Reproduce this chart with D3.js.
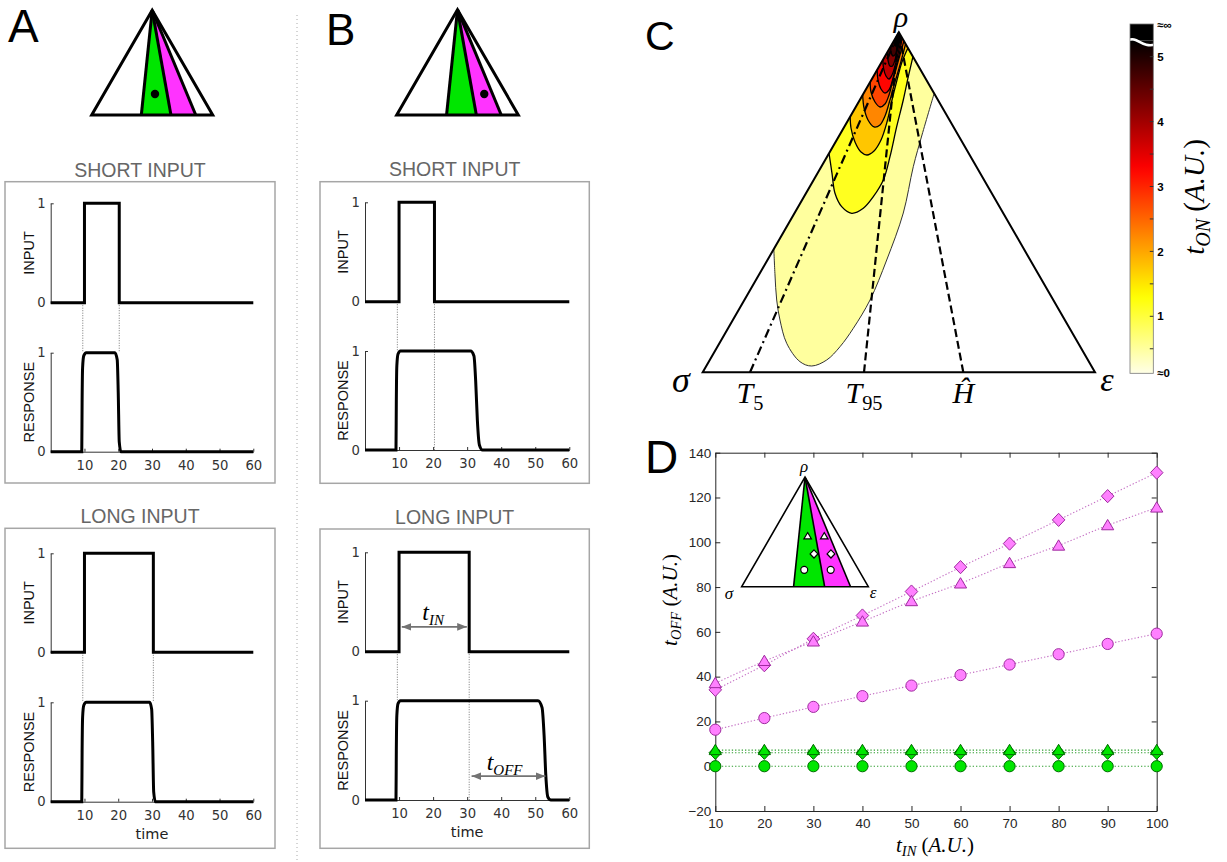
<!DOCTYPE html>
<html>
<head>
<meta charset="utf-8">
<script src="https://cdn.jsdelivr.net/npm/d3@7"></script>
<style>
  body { margin: 0; background: #fff; }
  svg { display: block; }
</style>
</head>
<body>
<svg id="fig" width="1227" height="862"></svg>
<script>
// ---------- data ----------
const timeTicks = [10, 20, 30, 40, 50, 60]
const pulseOn = 10
const offShortA = 20.3, offLongA = 30.4, offShortB = 20.4, offLongB = 30.6

// response traces (time, level)
const respShortA = [[0,0],[9.2,0],[9.3,0.5],[9.45,0.85],[9.8,0.97],[10.5,1],[19,1],[19.7,0.93],[20,0.6],[20.3,0.1],[20.8,0],[60,0]]
const respLongA  = [[0,0],[9.2,0],[9.3,0.5],[9.45,0.85],[9.8,0.97],[10.5,1],[29.3,1],[29.9,0.93],[30.2,0.6],[30.5,0.1],[31,0],[60,0]]
const respShortB = [[0,0],[9.1,0],[9.2,0.5],[9.35,0.85],[9.7,0.97],[10.4,1],[31,1],[32,0.95],[32.5,0.7],[33,0.3],[33.6,0.05],[34.5,0],[60,0]]
const respLongB  = [[0,0],[9.1,0],[9.2,0.5],[9.35,0.85],[9.7,0.97],[10.4,1],[50.8,1],[52,0.93],[52.6,0.65],[53.1,0.25],[53.7,0.03],[54.6,0],[60,0]]

// panel D
const tIn = [10, 20, 30, 40, 50, 60, 70, 80, 90, 100]
const magDiamond  = [34.1, 45.1, 56.9, 67.3, 78.0, 88.9, 99.4, 110.0, 120.6, 131.1]
const magTriangle = [37.1, 47.0, 55.7, 64.6, 73.7, 81.6, 90.7, 98.5, 107.6, 115.5]
const magCircle   = [16.3, 21.5, 26.5, 31.3, 36.0, 40.7, 45.4, 50.0, 54.6, 59.2]
const grnDiamond  = [6.0, 6.0, 6.0, 6.0, 6.0, 6.0, 6.0, 6.0, 6.0, 6.0]
const grnTriangle = [7.2, 7.2, 7.2, 7.2, 7.2, 7.2, 7.2, 7.2, 7.2, 7.2]
const grnCircle   = [0, 0, 0, 0, 0, 0, 0, 0, 0, 0]
const yTicksD = [-20, 0, 20, 40, 60, 80, 100, 120, 140]

// ternary diagrams (u along base 0..1, v height 0..1)
const regionBase = [0.41, 0.655, 0.86]     // green left, green|magenta, magenta right
const dotA = [0.523, 0.2]
const dotB = [0.72, 0.2]
const insetMarks = [
  { u: 0.521, v: 0.461, sym: 'tri' }, { u: 0.571, v: 0.299, sym: 'dia' }, { u: 0.494, v: 0.154, sym: 'cir' },
  { u: 0.652, v: 0.461, sym: 'tri' }, { u: 0.705, v: 0.299, sym: 'dia' }, { u: 0.703, v: 0.154, sym: 'cir' }
]
const lineBase = [
  { name: 'T5',  u: 0.1206, dash: '9,4,2,4' },
  { name: 'T95', u: 0.4112, dash: '8,4' },
  { name: 'H',   u: 0.6643, dash: '8,4' }
]

// t_ON contour levels and their boundaries (left edge -> right edge)
const contourLevels = [0, 1, 1.5, 2, 2.5, 3, 3.5, 4, 4.5, 5]
const contourCurves = [
  [[0.1813,0.3626],[0.1843,0.2862],[0.1886,0.2126],[0.197,0.1538],[0.2141,0.0853],[0.248,0.0312],[0.2778,0.0185],[0.3161,0.0362],[0.35,0.0753],[0.3839,0.1294],[0.4265,0.2126],[0.469,0.3303],[0.5113,0.4685],[0.5368,0.6047],[0.559,0.698],[0.59,0.82]],
  [[0.322,0.6441],[0.3296,0.5853],[0.3372,0.5265],[0.3543,0.4871],[0.3798,0.4676],[0.4094,0.4824],[0.4349,0.5165],[0.4604,0.5656],[0.4774,0.6341],[0.4945,0.7224],[0.5113,0.8009],[0.5241,0.8694],[0.5359,0.9282]],
  [[0.3759,0.7518],[0.378,0.7185],[0.3882,0.6774],[0.4035,0.6479],[0.4188,0.6391],[0.4367,0.6509],[0.4545,0.6832],[0.4698,0.7362],[0.4826,0.8009],[0.4953,0.8597],[0.508,0.9126],[0.5231,0.9538]],
  [[0.4078,0.8156],[0.4112,0.7774],[0.4214,0.7421],[0.4367,0.7215],[0.4519,0.7274],[0.4647,0.7538],[0.4774,0.8009],[0.4902,0.8538],[0.5029,0.9038],[0.5172,0.9656]],
  [[0.4269,0.8538],[0.429,0.8244],[0.4392,0.795],[0.4519,0.7803],[0.4647,0.7891],[0.4749,0.8156],[0.485,0.8597],[0.4978,0.9126],[0.5128,0.9744]],
  [[0.4446,0.8891],[0.4468,0.86],[0.4545,0.8332],[0.4647,0.8215],[0.4749,0.8303],[0.4826,0.8538],[0.4902,0.8891],[0.5004,0.9332],[0.5084,0.9832]],
  [[0.4593,0.9185],[0.4609,0.895],[0.4672,0.8715],[0.4749,0.8626],[0.4826,0.8744],[0.4902,0.9009],[0.4978,0.9362],[0.5069,0.9862]],
  [[0.471,0.9421],[0.4723,0.9185],[0.4774,0.9009],[0.4838,0.9009],[0.4902,0.9185],[0.4966,0.9479],[0.5054,0.9891]],
  [[0.4798,0.9597],[0.48,0.942],[0.4851,0.9303],[0.4915,0.9362],[0.4966,0.9597],[0.5047,0.9906]],
  [[0.488,0.9759],[0.4889,0.9626],[0.494,0.9597],[0.4991,0.9744],[0.5028,0.9944]]
]
const cbMajor = [1, 2, 3, 4, 5]
const cbMinor = [0.5, 1.5, 2.5, 3.5, 4.5]
const cbMax = 5.25

// ---------- setup ----------
const sans = 'Liberation Sans, Arial, sans-serif'
const dejavu = 'DejaVu Sans, sans-serif'
const serif = 'Liberation Serif, Times New Roman, serif'
const green = '#00e600', magenta = '#ff33ff'

const svg = d3.select('#fig')
svg.append('rect').attr('width', 1227).attr('height', 862).attr('fill', '#fff')
const defs = svg.append('defs')

// reversed "hot" colormap
function hotR(val) {
  const s = 1 - Math.max(0, Math.min(1, val / cbMax))
  const cl = (x) => Math.max(0, Math.min(1, x))
  return d3.rgb(255 * cl(s / 0.375), 255 * cl((s - 0.375) / 0.375), 255 * cl((s - 0.75) / 0.25)).formatHex()
}

function triPath(xs, ys) {
  return `M${xs(0)},${ys(0)}L${xs(0.5)},${ys(1)}L${xs(1)},${ys(0)}Z`
}

// panel letters
const letters = [['A', 8, 42, 46], ['B', 326, 45, 44], ['C', 645, 50, 41], ['D', 645, 473, 46]]
letters.forEach(([t, x, y, s]) => {
  svg.append('text').attr('x', x).attr('y', y).attr('font-family', sans).attr('font-size', s).text(t)
})

// separator
svg.append('line').attr('x1', 297).attr('x2', 297).attr('y1', 15).attr('y2', 862)
  .attr('stroke', '#aaa').attr('stroke-width', 1).attr('stroke-dasharray', '1,3')

// ---------- small ternary diagrams ----------
function miniTriangle(x0, y0, w, lw) {
  const xs = d3.scaleLinear().domain([0, 1]).range([x0, x0 + w])
  const ys = d3.scaleLinear().domain([0, 1]).range([y0, y0 - w * 0.866])
  const g = svg.append('g')
  const apex = [xs(0.5), ys(1)]
  const poly = (a, b) => `M${apex}L${xs(a)},${ys(0)}L${xs(b)},${ys(0)}Z`
  g.append('path').attr('d', poly(regionBase[0], regionBase[1])).attr('fill', green)
  g.append('path').attr('d', poly(regionBase[1], regionBase[2])).attr('fill', magenta)
  g.append('path').attr('d', triPath(xs, ys)).attr('fill', 'none').attr('stroke', '#000')
    .attr('stroke-width', lw).attr('stroke-linejoin', 'miter').attr('stroke-miterlimit', 3)
  regionBase.forEach(u => {
    g.append('line').attr('x1', apex[0]).attr('y1', apex[1]).attr('x2', xs(u)).attr('y2', ys(0))
      .attr('stroke', '#000').attr('stroke-width', lw)
  })
  return { g, xs, ys }
}

const triA = miniTriangle(91.7, 115, 121, 3)
triA.g.append('circle').attr('cx', triA.xs(dotA[0])).attr('cy', triA.ys(dotA[1])).attr('r', 4.2)
const triB = miniTriangle(396.7, 115, 121.6, 3)
triB.g.append('circle').attr('cx', triB.xs(dotB[0])).attr('cy', triB.ys(dotB[1])).attr('r', 4.2)

// ---------- time course panels ----------
const stepOf = (off) => [[0, 0], [pulseOn, 0], [pulseOn, 1], [off, 1], [off, 0], [60, 0]]

const timePanels = [
  { title: 'SHORT INPUT', box: [5, 181.7, 275, 483], titleY: 176.7, xr: [50.7, 253.3], inY: [302.7, 203.3], resY: [451.7, 352.7],
    labelX: 33.5, input: stepOf(offShortA), resp: respShortA, guides: [[9.5, 1], [offShortA, 1]], time: false },
  { title: 'LONG INPUT', box: [5, 528.3, 275, 848.3], titleY: 523.3, xr: [50.7, 253.3], inY: [652.3, 553.3], resY: [801.7, 702.3],
    labelX: 33.5, input: stepOf(offLongA), resp: respLongA, guides: [[9.5, 1], [offLongA, 1]], time: true },
  { title: 'SHORT INPUT', box: [320, 181.7, 589.3, 483.3], titleY: 175.5, xr: [365, 569.3], inY: [301.7, 202.3], resY: [450, 351],
    labelX: 348, input: stepOf(offShortB), resp: respShortB, guides: [[9.5, 1], [offShortB, 0]], time: false },
  { title: 'LONG INPUT', box: [320, 529, 589.3, 848.3], titleY: 523.8, xr: [365, 569.3], inY: [651.7, 552.3], resY: [800, 700.7],
    labelX: 348, input: stepOf(offLongB), resp: respLongB, guides: [[9.5, 1], [offLongB, 0]], time: true,
    arrows: [{ t0: 10.8, t1: 29.9, lev: 0.25, on: 'in', main: 't', sub: 'IN', tx: 20, ty: 0.32 },
             { t0: 31.3, t1: 53.0, lev: 0.24, on: 'res', main: 't', sub: 'OFF', tx: 41, ty: 0.3 }] }
]

defs.append('marker').attr('id', 'arrowHead').attr('viewBox', '0 0 10 10').attr('refX', 10).attr('refY', 5)
  .attr('markerWidth', 6).attr('markerHeight', 6).attr('orient', 'auto-start-reverse')
  .append('path').attr('d', 'M0,1L10,5L0,9Z').attr('fill', '#737373')

timePanels.forEach(p => {
  const g = svg.append('g')
  g.append('rect').attr('x', p.box[0]).attr('y', p.box[1]).attr('width', p.box[2] - p.box[0]).attr('height', p.box[3] - p.box[1])
    .attr('fill', 'none').attr('stroke', '#a6a6a6').attr('stroke-width', 1.5)
  g.append('text').attr('x', (p.box[0] + p.box[2]) / 2).attr('y', p.titleY).attr('text-anchor', 'middle')
    .attr('font-family', sans).attr('font-size', 19.5).attr('fill', '#666').text(p.title)

  const x = d3.scaleLinear().domain([0, 60]).range(p.xr)
  const yIn = d3.scaleLinear().domain([0, 1]).range(p.inY)
  const yRes = d3.scaleLinear().domain([0, 1]).range(p.resY)

  const styleAxis = (a) => {
    a.selectAll('path,line').attr('stroke', '#333').attr('stroke-width', 1)
    a.selectAll('text').attr('font-family', dejavu).attr('font-size', 13.2).attr('fill', '#333')
  }
  g.append('g').attr('transform', `translate(${p.xr[0]},0)`)
    .call(d3.axisLeft(yIn).tickValues([0, 1]).tickFormat(d3.format('d')).tickSizeInner(-3).tickSizeOuter(0).tickPadding(5)).call(styleAxis)
  g.append('g').attr('transform', `translate(${p.xr[0]},0)`)
    .call(d3.axisLeft(yRes).tickValues([0, 1]).tickFormat(d3.format('d')).tickSizeInner(-3).tickSizeOuter(0).tickPadding(5)).call(styleAxis)
  g.append('g').attr('transform', `translate(0,${p.resY[0]})`)
    .call(d3.axisBottom(x).tickValues(timeTicks).tickSizeInner(-3).tickSizeOuter(0).tickPadding(8.5)).call(styleAxis)
  g.selectAll('.domain').attr('stroke', '#333')

  g.append('text').attr('transform', `translate(${p.labelX},${(p.inY[0] + p.inY[1]) / 2}) rotate(-90)`)
    .attr('text-anchor', 'middle').attr('font-family', sans).attr('font-size', 14.5).attr('fill', '#111').text('INPUT')
  g.append('text').attr('transform', `translate(${p.labelX},${(p.resY[0] + p.resY[1]) / 2}) rotate(-90)`)
    .attr('text-anchor', 'middle').attr('font-family', sans).attr('font-size', 14.5).attr('fill', '#111').text('RESPONSE')
  if (p.time) {
    g.append('text').attr('x', (p.xr[0] + p.xr[1]) / 2).attr('y', p.resY[0] + 37).attr('text-anchor', 'middle')
      .attr('font-family', dejavu).attr('font-size', 14.5).attr('fill', '#222').text('time')
  }

  // guides
  p.guides.forEach(([t, lev]) => {
    g.append('line').attr('x1', x(t)).attr('x2', x(t)).attr('y1', yIn(0)).attr('y2', yRes(lev))
      .attr('stroke', '#555').attr('stroke-width', 0.8).attr('stroke-dasharray', '1,1.5')
  })

  g.append('path').datum(p.input)
    .attr('d', d3.line().x(d => x(d[0])).y(d => yIn(d[1])))
    .attr('fill', 'none').attr('stroke', '#000').attr('stroke-width', 3)
  g.append('path').datum(p.resp)
    .attr('d', d3.line().x(d => x(d[0])).y(d => yRes(d[1])).curve(d3.curveMonotoneX))
    .attr('fill', 'none').attr('stroke', '#000').attr('stroke-width', 3)

  ;(p.arrows || []).forEach(a => {
    const yy = a.on === 'in' ? yIn : yRes
    g.append('line').attr('x1', x(a.t0)).attr('x2', x(a.t1)).attr('y1', yy(a.lev)).attr('y2', yy(a.lev))
      .attr('stroke', '#737373').attr('stroke-width', 1.6)
      .attr('marker-start', 'url(#arrowHead)').attr('marker-end', 'url(#arrowHead)')
    const t = g.append('text').attr('x', x(a.tx)).attr('y', yy(a.ty)).attr('text-anchor', 'middle')
      .attr('font-family', serif).attr('font-style', 'italic').attr('font-size', 24)
    t.append('tspan').text(a.main)
    t.append('tspan').attr('font-size', 15).attr('dy', 5).text(a.sub)
  })
})

// ---------- panel C ----------
const xC = d3.scaleLinear().domain([0, 1]).range([702.7, 1095])
const yC = d3.scaleLinear().domain([0, 1]).range([372.3, 32.3])
defs.append('clipPath').attr('id', 'clipC').append('path').attr('d', triPath(xC, yC))

const gC = svg.append('g')
const lineC = d3.line().x(d => xC(d[0])).y(d => yC(d[1])).curve(d3.curveCatmullRom.alpha(0.5))
const apexC = `L${xC(0.5)},${yC(1)}Z`
const fills = gC.append('g').attr('clip-path', 'url(#clipC)')
contourCurves.forEach((c, i) => {
  const next = i < contourLevels.length - 1 ? contourLevels[i + 1] : cbMax
  const mid = i === contourLevels.length - 1 ? cbMax : (contourLevels[i] + next) / 2
  fills.append('path').attr('d', lineC(c) + apexC).attr('fill', hotR(i === 1 ? 1.15 : mid)).attr('stroke', 'none')
})
contourCurves.forEach((c, i) => {
  fills.append('path').attr('d', lineC(c)).attr('fill', 'none')
    .attr('stroke', i === 0 ? '#333' : '#000').attr('stroke-width', i === 0 ? 1 : 1.3)
})
gC.append('path').attr('d', triPath(xC, yC)).attr('fill', 'none').attr('stroke', '#000').attr('stroke-width', 2)
  .attr('stroke-linejoin', 'miter').attr('stroke-miterlimit', 4)
lineBase.forEach(l => {
  gC.append('line').attr('x1', xC(l.u)).attr('y1', yC(0)).attr('x2', xC(0.5)).attr('y2', yC(1))
    .attr('stroke', '#000').attr('stroke-width', 2.2).attr('stroke-dasharray', l.dash)
})

function mathText(g, x, y, size, main, sub, anchor, subItalic) {
  const t = g.append('text').attr('x', x).attr('y', y).attr('text-anchor', anchor || 'middle')
    .attr('font-family', serif).attr('font-size', size)
  t.append('tspan').attr('font-style', 'italic').text(main)
  if (sub) t.append('tspan').attr('font-size', size * 0.68).attr('dy', size * 0.22)
    .attr('font-style', subItalic ? 'italic' : 'normal').text(sub)
  return t
}
mathText(gC, 901, 27, 30, 'ρ')
mathText(gC, 681, 392, 36, 'σ')
mathText(gC, 1107, 391, 34, 'ε')
mathText(gC, xC(lineBase[0].u), 403, 30, 'T', '5')
mathText(gC, xC(lineBase[1].u), 403, 30, 'T', '95')
mathText(gC, xC(lineBase[2].u), 403, 30, 'Ĥ')

// colorbar
const cbX0 = 1130, cbX1 = 1153.3, cbBottom = 373.3, cbTop = 24
const cbY = d3.scaleLinear().domain([0, 5]).range([381.2, 56.7])
const cbLow = cbY.invert(cbBottom)
const grad = defs.append('linearGradient').attr('id', 'cbGrad').attr('x1', 0).attr('x2', 0).attr('y1', 1).attr('y2', 0)
d3.range(0, 1.0001, 0.025).forEach(o => {
  grad.append('stop').attr('offset', o).attr('stop-color', hotR(cbLow + o * (cbMax - cbLow)))
})
const gCb = svg.append('g')
gCb.append('rect').attr('x', cbX0).attr('y', cbTop).attr('width', cbX1 - cbX0).attr('height', cbY(cbMax) - cbTop).attr('fill', '#000')
gCb.append('rect').attr('x', cbX0).attr('y', cbY(cbMax)).attr('width', cbX1 - cbX0).attr('height', cbBottom - cbY(cbMax))
  .attr('fill', 'url(#cbGrad)')
const bw = cbX1 - cbX0, by = cbY(cbMax) + 1
gCb.append('path')
  .attr('d', `M${cbX0 - 2},${by - 1} C${cbX0 + bw * 0.3},${by - 6} ${cbX0 + bw * 0.5},${by + 7} ${cbX1 + 2},${by + 3}`)
  .attr('fill', 'none').attr('stroke', '#fff').attr('stroke-width', 2.6)
gCb.append('rect').attr('x', cbX0).attr('y', cbTop).attr('width', bw).attr('height', cbBottom - cbTop)
  .attr('fill', 'none').attr('stroke', '#777').attr('stroke-width', 0.8)
cbMajor.concat(cbMinor).forEach(v => {
  gCb.append('line').attr('x1', cbX1 - 3.5).attr('x2', cbX1).attr('y1', cbY(v)).attr('y2', cbY(v))
    .attr('stroke', '#333').attr('stroke-width', 1)
})
const cbLabels = cbMajor.map(v => [String(v), cbY(v)]).concat([['≈0', cbBottom], ['≈∞', cbTop + 1]])
cbLabels.forEach(([s, y]) => {
  gCb.append('text').attr('x', cbX1 + 4).attr('y', y).attr('dy', '0.36em').attr('font-family', sans)
    .attr('font-weight', 'bold').attr('font-size', 11.5).text(s)
})
const cbLab = gCb.append('text').attr('transform', 'translate(1204,197) rotate(-90)').attr('text-anchor', 'middle')
  .attr('font-family', serif).attr('font-size', 29)
cbLab.append('tspan').attr('font-style', 'italic').text('t')
cbLab.append('tspan').attr('font-style', 'italic').attr('font-size', 20).attr('dy', 6).text('ON')
cbLab.append('tspan').attr('dy', -6).text(' (')
cbLab.append('tspan').attr('font-style', 'italic').text('A.U.')
cbLab.append('tspan').text(')')

// ---------- panel D ----------
const xD = d3.scaleLinear().domain([10, 100]).range([715.3, 1156.7])
const yD = d3.scaleLinear().domain([-20, 140]).range([811, 452.7])
const gD = svg.append('g')
const axisCol = '#262626'
const styleD = (a) => {
  a.selectAll('path,line').attr('stroke', axisCol).attr('stroke-width', 1)
  a.selectAll('text').attr('font-family', sans).attr('font-size', 13.5).attr('fill', axisCol)
}
gD.append('g').attr('transform', `translate(0,${yD(-20)})`)
  .call(d3.axisBottom(xD).tickValues(tIn).tickSizeInner(-5).tickSizeOuter(0).tickPadding(7)).call(styleD)
gD.append('g').attr('transform', `translate(0,${yD(140)})`)
  .call(d3.axisTop(xD).tickValues(tIn).tickFormat('').tickSizeInner(-5).tickSizeOuter(0)).call(styleD)
gD.append('g').attr('transform', `translate(${xD(10)},0)`)
  .call(d3.axisLeft(yD).tickValues(yTicksD).tickSizeInner(-5).tickSizeOuter(0).tickPadding(4)).call(styleD)
gD.append('g').attr('transform', `translate(${xD(100)},0)`)
  .call(d3.axisRight(yD).tickValues(yTicksD).tickFormat('').tickSizeInner(-5).tickSizeOuter(0)).call(styleD)

// axis labels
const xl = gD.append('text').attr('x', 935).attr('y', 852).attr('text-anchor', 'middle').attr('font-family', serif).attr('font-size', 21)
xl.append('tspan').attr('font-style', 'italic').text('t')
xl.append('tspan').attr('font-style', 'italic').attr('font-size', 14.5).attr('dy', 4).text('IN')
xl.append('tspan').attr('dy', -4).text(' (')
xl.append('tspan').attr('font-style', 'italic').text('A.U.')
xl.append('tspan').text(')')
const yl = gD.append('text').attr('transform', 'translate(677,600) rotate(-90)').attr('text-anchor', 'middle').attr('font-family', serif).attr('font-size', 21)
yl.append('tspan').attr('font-style', 'italic').text('t')
yl.append('tspan').attr('font-style', 'italic').attr('font-size', 14.5).attr('dy', 4).text('OFF')
yl.append('tspan').attr('dy', -4).text(' (')
yl.append('tspan').attr('font-style', 'italic').text('A.U.')
yl.append('tspan').text(')')

// inset ternary
const inset = miniTriangle(741.7, 586.7, 126.6, 1.6)
mathText(inset.g, 804, 472, 17, 'ρ')
mathText(inset.g, 729, 599, 17, 'σ')
mathText(inset.g, 873, 598, 17, 'ε')

// marker shapes
const diaSym = { draw(ctx, s) { ctx.moveTo(0, -s); ctx.lineTo(s * 0.95, 0); ctx.lineTo(0, s); ctx.lineTo(-s * 0.95, 0); ctx.closePath() } }
const triSym = { draw(ctx, s) { ctx.moveTo(0, -s); ctx.lineTo(s * 1.05, s * 0.78); ctx.lineTo(-s * 1.05, s * 0.78); ctx.closePath() } }
const cirSym = { draw(ctx, s) { ctx.moveTo(s, 0); ctx.arc(0, 0, s, 0, 2 * Math.PI) } }
const symOf = { dia: [diaSym, 6.6], tri: [triSym, 5.8], cir: [cirSym, 5.6] }

insetMarks.forEach(m => {
  const [type, s] = symOf[m.sym]
  inset.g.append('path').attr('d', d3.symbol(type, s * 0.62)())
    .attr('transform', `translate(${inset.xs(m.u)},${inset.ys(m.v)})`)
    .attr('fill', '#fff').attr('stroke', '#000').attr('stroke-width', 1.2)
})

const seriesD = [
  { vals: magCircle, sym: 'cir', fill: '#ff80ff', stroke: '#9e2a9e', line: '#c46fc4' },
  { vals: magDiamond, sym: 'dia', fill: '#ff80ff', stroke: '#9e2a9e', line: '#c46fc4' },
  { vals: magTriangle, sym: 'tri', fill: '#ff80ff', stroke: '#9e2a9e', line: '#c46fc4' },
  { vals: grnCircle, sym: 'cir', fill: '#00e600', stroke: '#006b00', line: '#2f9e2f' },
  { vals: grnDiamond, sym: 'dia', fill: '#00e600', stroke: '#006b00', line: '#2f9e2f' },
  { vals: grnTriangle, sym: 'tri', fill: '#00e600', stroke: '#006b00', line: '#2f9e2f' }
]
const lineD = d3.line().x((d, i) => xD(tIn[i])).y(d => yD(d))
seriesD.forEach(s => {
  gD.append('path').datum(s.vals).attr('d', lineD).attr('fill', 'none')
    .attr('stroke', s.line).attr('stroke-width', 1.1).attr('stroke-dasharray', '1.3,2')
})
seriesD.forEach(s => {
  const [type, size] = symOf[s.sym]
  gD.append('g').selectAll('path').data(s.vals).enter().append('path')
    .attr('d', d3.symbol(type, size)())
    .attr('transform', (d, i) => `translate(${xD(tIn[i])},${yD(d)})`)
    .attr('fill', s.fill).attr('stroke', s.stroke).attr('stroke-width', 1)
})
</script>
</body>
</html>
